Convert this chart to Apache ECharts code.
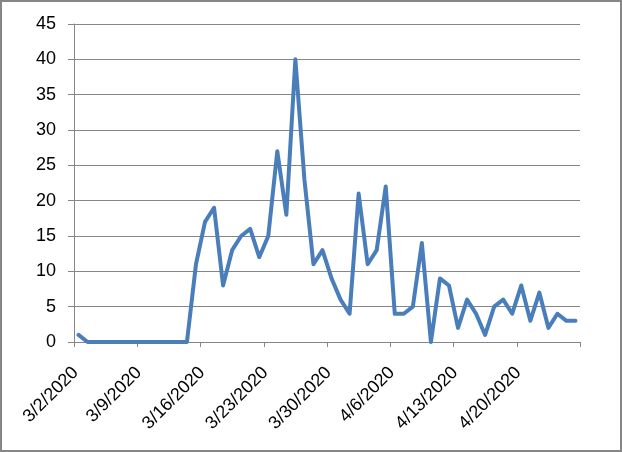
<!DOCTYPE html>
<html>
<head>
<meta charset="utf-8">
<script src="https://cdn.jsdelivr.net/npm/echarts@6/dist/echarts.min.js"></script>
<style>
  html, body { margin: 0; padding: 0; background: #fff; }
  #frame { position: absolute; left: 0; top: 0; width: 618px; height: 448px; border: 2px solid #868686; }
  #chart { position: absolute; left: 0; top: 0; width: 622px; height: 452px; }
</style>
</head>
<body>
<div id="frame"></div>
<div id="chart"></div>
<script>
const dates = [
  '3/2/2020', '3/3/2020', '3/4/2020', '3/5/2020', '3/6/2020', '3/7/2020', '3/8/2020',
  '3/9/2020', '3/10/2020', '3/11/2020', '3/12/2020', '3/13/2020', '3/14/2020', '3/15/2020',
  '3/16/2020', '3/17/2020', '3/18/2020', '3/19/2020', '3/20/2020', '3/21/2020', '3/22/2020',
  '3/23/2020', '3/24/2020', '3/25/2020', '3/26/2020', '3/27/2020', '3/28/2020', '3/29/2020',
  '3/30/2020', '3/31/2020', '4/1/2020', '4/2/2020', '4/3/2020', '4/4/2020', '4/5/2020',
  '4/6/2020', '4/7/2020', '4/8/2020', '4/9/2020', '4/10/2020', '4/11/2020', '4/12/2020',
  '4/13/2020', '4/14/2020', '4/15/2020', '4/16/2020', '4/17/2020', '4/18/2020', '4/19/2020',
  '4/20/2020', '4/21/2020', '4/22/2020', '4/23/2020', '4/24/2020', '4/25/2020', '4/26/2020'
];

const counts = [
  1, 0, 0, 0, 0, 0, 0,
  0, 0, 0, 0, 0, 0, 11,
  17, 19, 8, 13, 15, 16, 12,
  15, 27, 18, 40, 23, 11, 13,
  9, 6, 4, 21, 11, 13, 22,
  4, 4, 5, 14, 0, 9, 8,
  2, 6, 4, 1, 5, 6, 4,
  8, 3, 7, 2, 4, 3, 3
];

const yMin = 0;
const yMax = 45;
const yStep = 5;

const gray = '#868686';
const font = 'Liberation Sans';

const chart = echarts.init(document.getElementById('chart'));
chart.setOption({
  animation: false,
  grid: { left: 74, right: 42, top: 24, bottom: 110, containLabel: false },
  xAxis: {
    type: 'category',
    data: dates,
    boundaryGap: true,
    axisLine: { lineStyle: { color: gray, width: 1 } },
    axisTick: { show: true, interval: 6, length: 5, lineStyle: { color: gray } },
    axisLabel: {
      interval: 6, rotate: 45, margin: 25, padding: [0, 4, 0, 0],
      color: '#000', fontFamily: font, fontSize: 18
    },
    splitLine: { show: false }
  },
  yAxis: {
    type: 'value',
    min: yMin,
    max: yMax,
    interval: yStep,
    axisLine: { show: true, lineStyle: { color: gray, width: 1 } },
    axisTick: { show: true, length: 6, lineStyle: { color: gray } },
    axisLabel: { margin: 18, color: '#000', fontFamily: font, fontSize: 18 },
    splitLine: { lineStyle: { color: gray, width: 1 } }
  },
  series: [
    {
      type: 'line',
      data: counts,
      showSymbol: false,
      lineStyle: { color: '#4a7ebb', width: 4, join: 'round', cap: 'round' }
    }
  ]
});
</script>
</body>
</html>
